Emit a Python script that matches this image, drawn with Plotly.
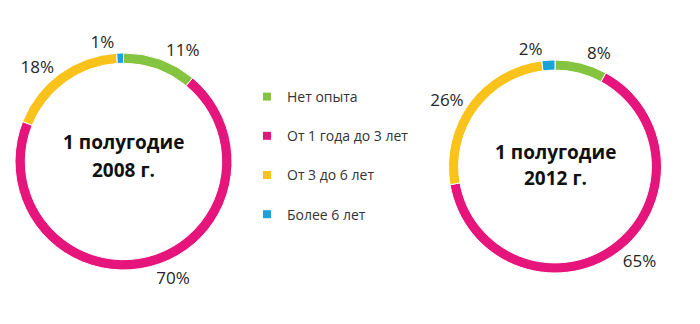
import plotly.graph_objects as go

categories = ["Нет опыта", "От 1 года до 3 лет", "От 3 до 6 лет", "Более 6 лет"]
colors = ["#84C441", "#E5157C", "#FAC31C", "#1AA3D8"]
values_2008 = [11, 70, 18, 1]
values_2012 = [8, 65, 26, 2]
title_lines = [["1 полугодие", "2008 г."], ["1 полугодие", "2012 г."]]

W, H = 700, 324
FONT = "Open Sans"

fig = go.Figure()

def add_pie(vals, lines, dom_x, dom_y, shifts):
    fig.add_trace(go.Pie(
        labels=categories,
        values=vals,
        text=[f"{v}%" for v in vals],
        textinfo="text",
        textposition="outside",
        textfont=dict(family=FONT, size=17, color="#262626"),
        outsidetextfont=dict(family=FONT, size=17, color="#262626"),
        hole=0.905,
        sort=False,
        direction="clockwise",
        rotation=0,
        marker=dict(colors=colors, line=dict(color="white", width=1)),
        domain=dict(x=dom_x, y=dom_y),
        showlegend=False,
        hoverinfo="label+text",
    ))
    cx = (dom_x[0] + dom_x[1]) / 2
    cy = (dom_y[0] + dom_y[1]) / 2
    for line, sh in zip(lines, shifts):
        fig.add_annotation(x=cx, y=cy, xref="paper", yref="paper",
                           xanchor="center", yanchor="middle",
                           text=f"<b>{line}</b>", showarrow=False, yshift=sh,
                           font=dict(family=FONT, size=19, color="#111111"))

add_pie(values_2008, title_lines[0], [15 / W, 232 / W], [54 / H, 271 / H], [20, -8])
add_pie(values_2012, title_lines[1], [448 / W, 662 / W], [51 / H, 264 / H], [14, -12])

for i, (cat, col) in enumerate(zip(categories, colors)):
    fig.add_trace(go.Scatter(
        x=[None], y=[None], mode="markers", name=cat,
        marker=dict(symbol="square", size=8, color=col),
        legendgroup=f"g{i}", showlegend=True,
    ))

fig.update_layout(
    width=W, height=H,
    margin=dict(l=0, r=0, t=0, b=0),
    paper_bgcolor="white", plot_bgcolor="white",
    xaxis=dict(visible=False), yaxis=dict(visible=False),
    legend=dict(x=247 / W, y=1 - 81 / H, xanchor="left", yanchor="top",
                font=dict(family=FONT, size=14, color="#333333"),
                tracegroupgap=18, itemwidth=30, bgcolor="rgba(0,0,0,0)"),
    showlegend=True,
)

fig.write_html("out.html")
